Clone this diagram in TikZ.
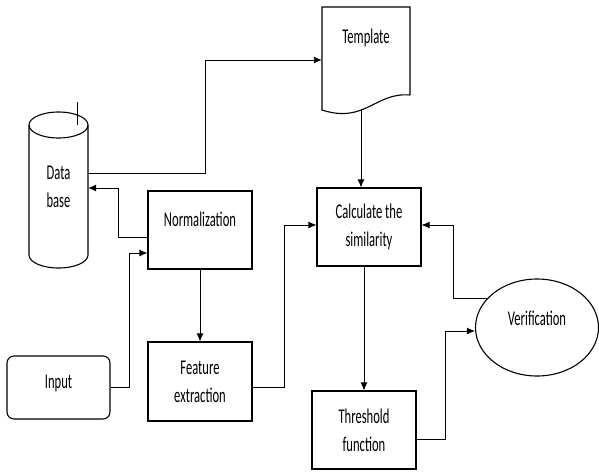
\documentclass[tikz,border=0pt]{standalone}
\usepackage{fontspec}
\setmainfont{Carlito}
\usepackage{graphicx}
\usetikzlibrary{arrows.meta, shapes.geometric, positioning}
\newcommand{\nar}[1]{\scalebox{0.6}[1]{#1}}

\begin{document}
\begin{tikzpicture}[x=1pt, y=-1pt,
    every node/.style={font=\fontsize{21}{28}\selectfont, align=center, inner sep=0pt},
    box/.style={draw, line width=1.1pt, minimum width=104pt, minimum height=78pt},
    link/.style={line width=0.9pt},
    arr/.style={link, -{Latex[length=8pt,width=7pt]}}]
    \useasboundingbox (0,0) rectangle (599,472);

    % Data base cylinder
    \draw[line width=1.1pt] (58.5,125) ellipse [x radius=29.5, y radius=13];
    \draw[line width=1.1pt] (29,125) -- (29,255) arc[start angle=180, end angle=0, x radius=29.5, y radius=13] -- (88,125);
    \draw[line width=0.8pt] (77,102) -- (77,125);

    % Template document
    \draw[line width=1.1pt] (410,95) -- (410,7) -- (322,7) -- (322,110)
        .. controls (365,124) and (375,92) .. (410,95);
    \coordinate (tplbot) at (361,110);

    % Nodes
    \node[minimum width=59pt] (db) at (58.5,187) {\nar{Data}\\\nar{base}};
    \node[minimum width=88pt] (tpl) at (366,38) {\nar{Template}};
    \node[box, text height=10pt, text depth=18pt] (norm) at (200,230) {\nar{Normalization}};
    \node[box] (calc) at (369,227) {\nar{Calculate the}\\\nar{similarity}};
    \node[box, minimum height=79pt] (feat) at (200,381.5) {\nar{Feature}\\\nar{extraction}};
    \node[box] (thr) at (364,430) {\nar{Threshold}\\\nar{function}};
    \node[box, rounded corners=7pt, minimum width=103pt, minimum height=63pt, text height=10pt, text depth=9pt] (inp) at (58.5,387.5) {\nar{Input}};
    \node[draw, ellipse, line width=1.1pt, minimum width=123pt, minimum height=97pt, text height=10pt, text depth=14pt] (ver) at (537,327.5) {\nar{Verification}};

    % Connectors
    \draw[arr] ([yshift=14pt]db.east) -- (205,173) |- ([yshift=-22pt]tpl.west);
    \draw[arr] (tplbot) -- (tplbot |- calc.north);
    \draw[arr] ([yshift=-7pt]norm.west) -| (118,188) -- ([yshift=-1pt]db.east);
    \draw[arr] (inp.east) -| (129,253) -- ([yshift=-23pt]norm.west);
    \draw[arr] (norm.south) -- (feat.north);
    \draw[arr] ([yshift=-5.5pt]feat.east) -| (284,225) -- ([yshift=2pt]calc.west);
    \draw[arr] (thr.north |- calc.south) -- (thr.north);
    \draw[arr] ([yshift=-9pt]thr.east) -| (445,331) -- ([yshift=-3.5pt]ver.west);
    \draw[arr] (ver.150) -| (453,225) -- ([yshift=2pt]calc.east);
\end{tikzpicture}
\end{document}
